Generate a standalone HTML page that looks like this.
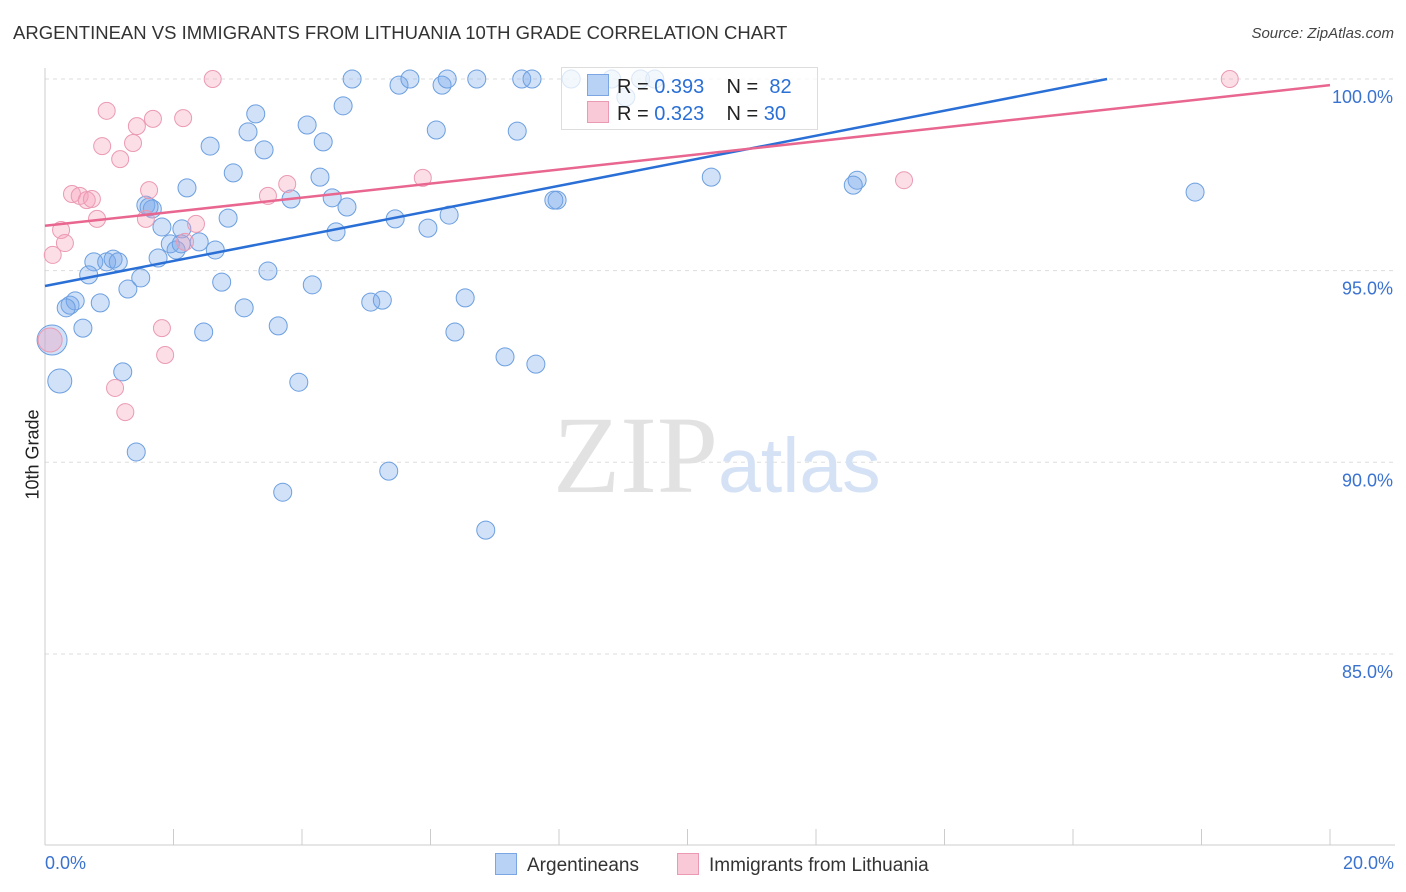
<!DOCTYPE html>
<html><head><meta charset="utf-8">
<style>
body{margin:0;background:#fff;font-family:"Liberation Sans",sans-serif;}
#wrap{position:relative;width:1406px;height:892px;overflow:hidden;}
.t{position:absolute;white-space:nowrap;}
</style></head>
<body>
<div id="wrap">
<div class="t" style="left:13px;top:22px;font-size:18.5px;color:#333;">ARGENTINEAN VS IMMIGRANTS FROM LITHUANIA 10TH GRADE CORRELATION CHART</div>
<div class="t" style="right:12px;top:25px;font-size:15px;color:#444;font-style:italic;">Source: ZipAtlas.com</div>
<svg id="chart" width="1406" height="892" style="position:absolute;left:0;top:0;"></svg>
</div>
<script>
const blueX=[4.78,5.51,5.68,6.18,6.26,6.72,7.42,7.58,8.19,9.04,9.49,8.82,9.27,4.64,3.28,3.16,4.08,6.09,7.35,2.57,3.41,4.33,2.93,4.28,2.21,3.83,4.47,4.70,1.57,1.67,2.85,5.45,6.29,5.96,4.53,1.82,2.13,1.95,2.04,2.40,2.65,1.76,0.76,0.96,1.06,1.14,0.68,1.49,1.29,3.47,4.16,2.75,0.39,0.47,0.86,0.33,3.10,3.63,0.59,2.47,5.07,5.25,6.54,6.38,7.16,7.64,0.11,1.21,0.23,3.95,1.42,5.35,3.70,6.86,7.97,10.37,12.64,12.58,17.90,7.92,2.12,1.62];
const blueY=[100,99.84,100,99.84,100,100,100,100,100,99.53,100,100,100,99.30,99.09,98.62,98.80,98.67,98.64,98.25,98.15,98.36,97.55,97.44,97.16,96.87,96.90,96.66,96.71,96.61,96.37,96.35,96.45,96.11,96.01,96.14,96.09,95.70,95.54,95.75,95.54,95.33,95.23,95.23,95.30,95.23,94.89,94.81,94.52,94.99,94.63,94.70,94.10,94.21,94.16,94.03,94.03,93.56,93.50,93.40,94.18,94.23,94.29,93.40,92.75,92.56,93.19,92.36,92.12,92.09,90.27,89.77,89.22,88.23,96.84,97.44,97.36,97.23,97.05,96.84,95.70,96.66];
const blueBig=[66,68];
const pinkX=[2.61,0.96,0.89,1.43,1.68,2.15,1.37,1.17,1.62,0.42,0.54,0.65,0.73,0.81,0.25,0.31,0.12,1.57,2.18,2.35,3.47,3.77,5.88,1.82,1.87,1.09,1.25,13.37,18.44,0.08];
const pinkY=[100,99.17,98.25,98.77,98.96,98.98,98.33,97.91,97.10,97.00,96.95,96.84,96.87,96.35,96.06,95.72,95.41,96.35,95.75,96.22,96.95,97.26,97.42,93.50,92.80,91.94,91.31,97.36,100,93.19];
const pinkBig=[29];
const yTicks=[100,95,90,85];
const yTickLabels=["100.0%","95.0%","90.0%","85.0%"];
const blueLine=[94.6,100,16.53];
const pinkLine=[96.17,99.84,20];

const svg=document.getElementById('chart');
const NS='http://www.w3.org/2000/svg';
const X0=45,X1=1330,YTOP=79,PPU=38.33;
const sx=v=>X0+(v/20)*(X1-X0);
const sy=v=>YTOP+(100-v)*PPU;
function mk(tag,attrs){const e=document.createElementNS(NS,tag);for(const k in attrs)e.setAttribute(k,attrs[k]);svg.appendChild(e);return e;}

yTicks.forEach((t,i)=>{
 const g=mk('line',{x1:X0,x2:1393,y1:sy(t),y2:sy(t),stroke:'#ddd','stroke-dasharray':'4,4','stroke-width':1});
 
 
 const tx=mk('text',{x:1393,y:sy(t)+24,'text-anchor':'end','font-size':18,fill:'#3a72d0','font-family':'Liberation Sans, sans-serif'});
 tx.textContent=yTickLabels[i];
 
 
});
const ya=mk('line',{x1:X0,x2:X0,y1:68,y2:845,stroke:'#ccc'});


const xa=mk('line',{x1:X0,x2:1395,y1:845,y2:845,stroke:'#ccc'});


for(let i=0;i<=20;i+=2){
 const tk=mk('line',{x1:sx(i),x2:sx(i),y1:829,y2:845,stroke:'#ccc'});
 
 
}
const wm=mk('text',{x:553,y:492,'font-size':110,fill:'#e2e2e2','font-family':'Liberation Serif, serif'});
wm.textContent='ZIP';


const wm2=mk('text',{x:718,y:492,'font-size':77,fill:'#d5e2f5','font-family':'Liberation Sans, sans-serif'});
wm2.textContent='atlas';



blueX.forEach((x,i)=>{
 const c=mk('circle',{cx:sx(x),cy:sy(blueY[i]),r:blueBig.includes(i)?(i==66?15:12):9,fill:'rgba(120,170,235,0.35)',stroke:'#6c9fe0','stroke-width':1});
 
 
});
pinkX.forEach((x,i)=>{
 const c=mk('circle',{cx:sx(x),cy:sy(pinkY[i]),r:pinkBig.includes(i)?12:8.5,fill:'rgba(245,160,185,0.35)',stroke:'#eb9ab3','stroke-width':1});
 
 
});
const bl=mk('line',{x1:sx(0),y1:sy(blueLine[0]),x2:sx(blueLine[2]),y2:sy(blueLine[1]),stroke:'#2a6fd6','stroke-width':2.5});


const pl=mk('line',{x1:sx(0),y1:sy(pinkLine[0]),x2:sx(pinkLine[2]),y2:sy(pinkLine[1]),stroke:'#e8668f','stroke-width':2.5});


</script>
<div class="t" style="left:561px;top:67px;width:255px;height:61px;border:1px solid #ddd;background:rgba(255,255,255,0.75);"></div>
<div class="t" style="left:587px;top:74px;font-size:20px;color:#222;">
<span style="display:inline-block;width:20px;height:20px;background:#b8d2f5;border:1px solid #7aa6e4;vertical-align:-3px;margin-right:8px;"></span>R = <span style="color:#2a6fd6">0.393</span>&nbsp;&nbsp;&nbsp; N = &nbsp;<span style="color:#2a6fd6">82</span></div>
<div class="t" style="left:587px;top:101px;font-size:20px;color:#222;">
<span style="display:inline-block;width:20px;height:20px;background:#f9c9d7;border:1px solid #eb9ab3;vertical-align:-3px;margin-right:8px;"></span>R = <span style="color:#2a6fd6">0.323</span>&nbsp;&nbsp;&nbsp; N = <span style="color:#2a6fd6">30</span></div>
<div class="t" style="left:-12px;top:444px;font-size:18px;color:#222;transform:rotate(-90deg);">10th Grade</div>
<div class="t" style="left:45px;top:853px;font-size:18px;color:#3a72d0;">0.0%</div>
<div class="t" style="right:12px;top:853px;font-size:18px;color:#3a72d0;">20.0%</div>
<div class="t" style="left:495px;top:853px;font-size:19px;color:#333;"><span style="display:inline-block;width:20px;height:20px;background:#b8d2f5;border:1px solid #7aa6e4;vertical-align:-4px;margin-right:10px;"></span>Argentineans</div>
<div class="t" style="left:677px;top:853px;font-size:19px;color:#333;"><span style="display:inline-block;width:20px;height:20px;background:#f9c9d7;border:1px solid #eb9ab3;vertical-align:-4px;margin-right:10px;"></span>Immigrants from Lithuania</div>
</body></html>
